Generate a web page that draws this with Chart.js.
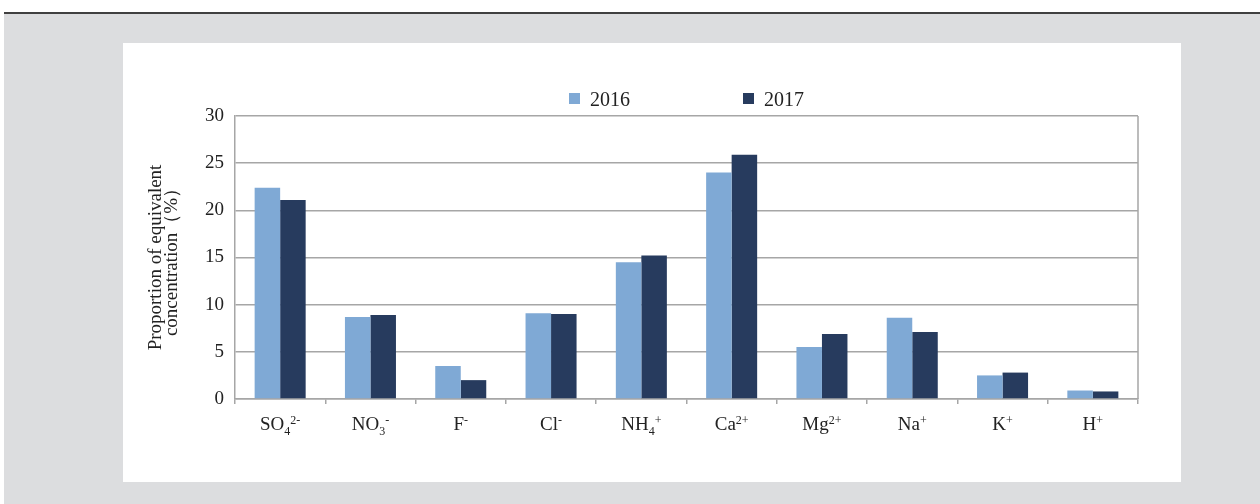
<!DOCTYPE html>
<html>
<head>
<meta charset="utf-8">
<script src="https://cdn.jsdelivr.net/npm/chart.js@4"></script>
<style>
	html, body { margin: 0; padding: 0; background: #fff; }
	body { width: 1260px; height: 504px; position: relative; overflow: hidden; }
	#topline { position: absolute; left: 4px; top: 12px; width: 1256px; height: 2px; background: #404040; }
	#backdrop { position: absolute; left: 4px; top: 14px; width: 1256px; height: 490px; background: #dcdddf; }
	#panel { position: absolute; left: 123px; top: 43px; width: 1058px; height: 439px; background: #fff; }
</style>
</head>
<body>
<div id="topline"></div>
<div id="backdrop"></div>
<div id="panel"><canvas id="ion-chart" width="1058" height="439"></canvas></div>
<script>
const ionNames = ["SO", "NO", "F", "Cl", "NH", "Ca", "Mg", "Na", "K", "H"];
const ionSubscripts = ["4", "3", "", "", "4", "", "", "", "", ""];
const ionCharges = ["2-", "-", "-", "-", "+", "2+", "2+", "+", "+", "+"];
const seriesLabels = ["2016", "2017"];
const values2016 = [22.4, 8.7, 3.5, 9.1, 14.5, 24.0, 5.5, 8.6, 2.5, 0.9];
const values2017 = [21.1, 8.9, 2.0, 9.0, 15.2, 25.9, 6.9, 7.1, 2.8, 0.8];
const yMin = 0;
const yMax = 30;
const yStep = 5;
const yTitle = ["Proportion of equivalent", "concentration\uff08%\uff09"];

const serif = "\"Liberation Serif\", \"Times New Roman\", serif";
const gridColor = "#a6a6a6";
const textColor = "#222";

// x labels carry sub/superscripts, so they are drawn in parts
const ionLabelPlugin = {
	id: "ionLabels",
	afterDraw(chart) {
		const ctx = chart.ctx;
		const xScale = chart.scales.x;
		const baseY = chart.chartArea.bottom + 31;
		ctx.save();
		ctx.fillStyle = textColor;
		ctx.textBaseline = "alphabetic";
		ctx.textAlign = "left";
		ionNames.forEach((name, i) => {
			ctx.font = "19px " + serif;
			const wBase = ctx.measureText(name).width;
			ctx.font = "12px " + serif;
			const wSub = ionSubscripts[i] ? ctx.measureText(ionSubscripts[i]).width : 0;
			const wSup = ctx.measureText(ionCharges[i]).width;
			const total = wBase + wSub + wSup;
			let x = xScale.getPixelForValue(i) - total / 2;
			ctx.font = "19px " + serif;
			ctx.fillText(name, x, baseY);
			x += wBase;
			ctx.font = "12px " + serif;
			if (ionSubscripts[i]) {
				ctx.fillText(ionSubscripts[i], x, baseY + 5);
				x += wSub;
			}
			ctx.fillText(ionCharges[i], x, baseY - 6);
		});
		ctx.restore();
	},
};

const legendAndFramePlugin = {
	id: "legendAndFrame",
	afterDraw(chart) {
		const ctx = chart.ctx;
		const area = chart.chartArea;
		ctx.save();
		// right side of the plot frame
		ctx.strokeStyle = gridColor;
		ctx.lineWidth = 1.5;
		ctx.beginPath();
		ctx.moveTo(area.right, area.top);
		ctx.lineTo(area.right, area.bottom);
		ctx.stroke();

		// legend
		ctx.font = "20px " + serif;
		const box = 11;
		const gap = 10;
		const itemGap = 113;
		const widths = chart.data.datasets.map((ds) => box + gap + ctx.measureText(ds.label).width);
		const total = widths.reduce((a, b) => a + b, 0) + itemGap * (widths.length - 1);
		let x = (area.left + area.right) / 2 - total / 2;
		const cy = 55.5;
		chart.data.datasets.forEach((ds, i) => {
			ctx.fillStyle = ds.backgroundColor;
			ctx.fillRect(x, cy - box / 2, box, box);
			ctx.fillStyle = textColor;
			ctx.textBaseline = "alphabetic";
			ctx.fillText(ds.label, x + box + gap, cy + 7.5);
			x += widths[i] + itemGap;
		});
		ctx.restore();
	},
};

new Chart(document.getElementById("ion-chart"), {
	type: "bar",
	data: {
		labels: ionNames.map((name, i) => name + ionSubscripts[i] + ionCharges[i]),
		datasets: [
			{
				label: seriesLabels[0],
				data: values2016,
				backgroundColor: "#7fa9d5",
				borderWidth: 0,
			},
			{
				label: seriesLabels[1],
				data: values2017,
				backgroundColor: "#273b5e",
				borderWidth: 0,
			},
		],
	},
	options: {
		responsive: false,
		animation: false,
		layout: { padding: { top: 73, right: 43, bottom: 43, left: 0 } },
		datasets: { bar: { categoryPercentage: 0.565, barPercentage: 1 } },
		plugins: {
			legend: { display: false },
			tooltip: { enabled: false },
		},
		scales: {
			x: {
				grid: { drawOnChartArea: false, drawTicks: true, tickLength: 5, color: gridColor, lineWidth: 1.5 },
				border: { color: gridColor, width: 1.5 },
				ticks: { display: false },
				afterFit(scale) { scale.height = 40; },
			},
			y: {
				min: yMin,
				max: yMax,
				ticks: {
					stepSize: yStep,
					padding: 11,
					color: textColor,
					font: { family: serif, size: 19 },
				},
				grid: { color: gridColor, lineWidth: 1.5, drawTicks: false },
				border: { color: gridColor, width: 1.5 },
				title: {
					display: true,
					text: yTitle,
					color: textColor,
					font: { family: serif, size: 19, lineHeight: 0.85 },
					padding: { top: 25, bottom: 0 },
				},
				afterFit(scale) { scale.width = 112; },
			},
		},
	},
	plugins: [ionLabelPlugin, legendAndFramePlugin],
});
</script>
</body>
</html>
